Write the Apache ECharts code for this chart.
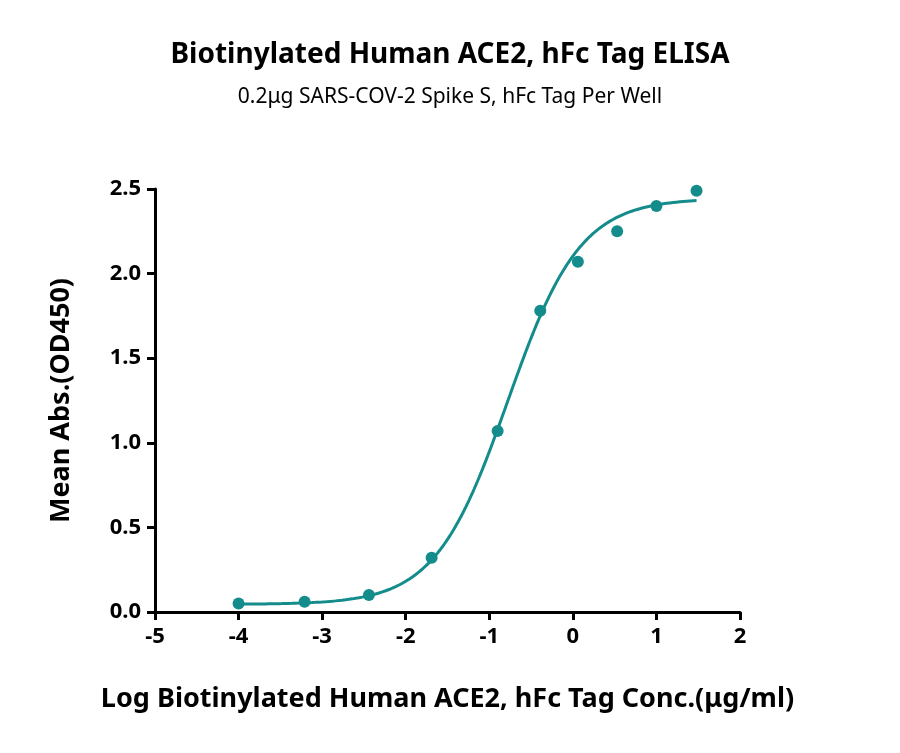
<!DOCTYPE html>
<html><head><meta charset="utf-8">
<script src="https://cdn.jsdelivr.net/npm/echarts@6/dist/echarts.min.js"></script>
<style>html,body{margin:0;background:#fff}#c{width:900px;height:753px}</style></head>
<body><div id="c"></div>
<script>
const xLog = [-4.0, -3.21, -2.44, -1.69, -0.90, -0.39, 0.06, 0.53, 1.0, 1.48];
const yAbs = [0.05, 0.06, 0.10, 0.32, 1.07, 1.78, 2.07, 2.25, 2.40, 2.49];
// 4PL fit parameters
const fitBottom = 0.045, fitTop = 2.445, fitLogEC50 = -0.78, fitHill = 1.0;
const curve = [];
for (let x = -4.0; x <= 1.4801; x += 0.02) {
  curve.push([x, fitBottom + (fitTop - fitBottom) / (1 + Math.pow(10, (fitLogEC50 - x) * fitHill))]);
}
const color = '#148c8c';
const font = 'Noto Sans';
const axisLine = {show: true, onZero: false, lineStyle: {color: '#000', width: 3}};
const axisTick = {show: true, length: 8, lineStyle: {color: '#000', width: 3}};
const chart = echarts.init(document.getElementById('c'));
chart.setOption({
  backgroundColor: '#fff',
  title: [
    {text: 'Biotinylated Human ACE2, hFc Tag ELISA', left: 'center', top: 36,
     textStyle: {fontFamily: font, fontSize: 28, fontWeight: 'bold', color: '#000'}},
    {text: '0.2μg SARS-COV-2 Spike S, hFc Tag Per Well', left: 'center', top: 82,
     textStyle: {fontFamily: font, fontSize: 21, fontWeight: 'normal', color: '#000'}}
  ],
  grid: {left: 155, right: 160, top: 189, bottom: 141},
  xAxis: {type: 'value', min: -5, max: 2, interval: 1,
    name: 'Log Biotinylated Human ACE2, hFc Tag Conc.(μg/ml)', nameLocation: 'middle', nameGap: 74,
    nameTextStyle: {fontFamily: font, fontSize: 27, fontWeight: 'bold', color: '#000', padding: [0, 0, 0, 0]},
    axisLine, axisTick, splitLine: {show: false},
    axisLabel: {fontFamily: font, fontSize: 22, fontWeight: 'bold', color: '#000', margin: 14}},
  yAxis: {type: 'value', min: 0, max: 2.5, interval: 0.5,
    name: 'Mean Abs.(OD450)', nameLocation: 'middle', nameGap: 80,
    nameTextStyle: {fontFamily: font, fontSize: 27, fontWeight: 'bold', color: '#000'},
    axisLine, axisTick, splitLine: {show: false},
    axisLabel: {fontFamily: font, fontSize: 22, fontWeight: 'bold', color: '#000', margin: 14,
      formatter: v => v.toFixed(1)}},
  series: [
    {type: 'line', data: curve, showSymbol: false, smooth: false,
     lineStyle: {color, width: 3}, silent: true},
    {type: 'scatter', data: xLog.map((x, i) => [x, yAbs[i]]), symbolSize: 12,
     itemStyle: {color, opacity: 1}}
  ]
});
</script></body></html>
